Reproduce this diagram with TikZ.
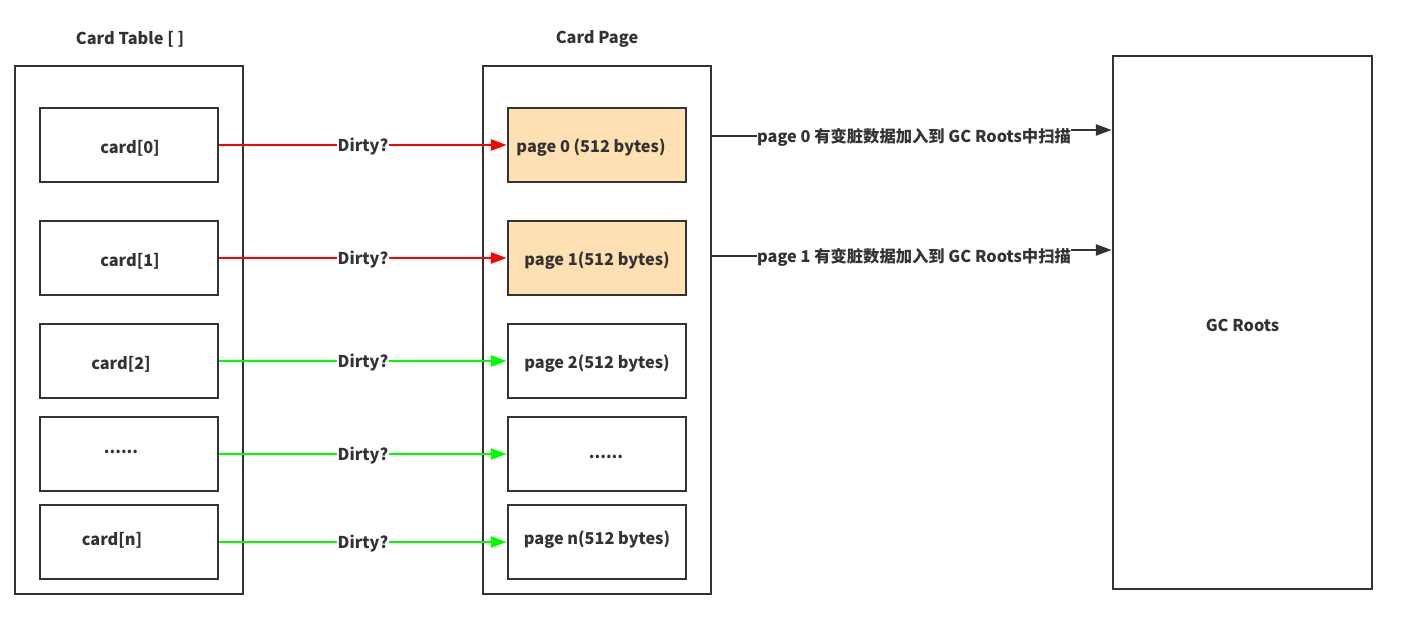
\documentclass[tikz,border=0pt]{standalone}
\usepackage{fontspec}
\setmainfont{Noto Sans CJK SC}
\usetikzlibrary{arrows.meta}
\definecolor{ln}{HTML}{333333}
\definecolor{pg}{HTML}{FFE0B2}
\definecolor{gr}{HTML}{00FF00}
\begin{document}
\begin{tikzpicture}[x=1pt,y=-1pt,
  font=\fontsize{16.3}{19}\selectfont\bfseries, text=ln,
  cont/.style={draw=ln, line width=2.5pt, fill=white, minimum width=228pt, minimum height=528pt, inner sep=0pt},
  box/.style={draw=ln, line width=2.5pt, fill=white, minimum width=178pt, minimum height=74pt, inner sep=0pt},
  hot/.style={box, fill=pg},
  redarr/.style={draw=red, line width=2.5pt, -{Triangle[length=16pt,width=11pt]}},
  grnarr/.style={draw=gr, line width=2.5pt, -{Triangle[length=16pt,width=11pt]}},
  darkarr/.style={draw=ln, line width=2.5pt, -{Triangle[length=16pt,width=11pt]}},
  lbl/.style={fill=white, inner sep=1pt}
]
\useasboundingbox (0,0) rectangle (1406,628);
\node (t1) at (130,39) {Card Table [ ]};
\node (t2) at (597,39) {Card Page};
\node[cont] (ct) at (129,330) {};
\node[cont] (pc) at (597,330) {};
\node[draw=ln, line width=2.5pt, minimum width=259pt, minimum height=533pt, inner sep=0pt] (gc) at (1242.5,322.5) {};
\node (gct) at (1242.5,325) {GC Roots};

\node[box] (c0) at (129,145) {};
\node at (130,148) {card[0]};
\node[box] (c1) at (129,258) {};
\node at (130,261) {card[1]};
\node[box] (c2) at (129,361) {};
\node at (121,364) {card[2]};
\node[box] (c3) at (129,454) {};
\node at (121,452) {......};
\node[box] (c4) at (129,542) {};
\node at (112,540) {card[n]};

\node[hot] (p0) at (597,145) {};
\node at (591,148) {page 0 (512 bytes)};
\node[hot] (p1) at (597,258) {};
\node at (597,261) {page 1(512 bytes)};
\node[box] (p2) at (597,361) {};
\node at (597,364) {page 2(512 bytes)};
\node[box] (p3) at (597,454) {};
\node at (606,457) {......};
\node[box] (p4) at (597,542) {};
\node at (597,540) {page n(512 bytes)};

\draw[redarr] (c0.east) -- node[lbl, yshift=-2pt] {Dirty?} (p0.west);
\draw[redarr] (c1.east) -- node[lbl, yshift=-2pt] {Dirty?} (p1.west);
\draw[grnarr] (c2.east) -- node[lbl, yshift=-2pt] {Dirty?} (p2.west);
\draw[grnarr] (c3.east) -- node[lbl, yshift=-2pt] {Dirty?} (p3.west);
\draw[grnarr] (c4.east) -- node[lbl, yshift=-2pt] {Dirty?} (p4.west);

\draw[darkarr] (pc.east |- 0,136) -- (914,136) -- (914,130) -- (gc.west |- 0,130);
\node[lbl, inner sep=0pt] (m0) at (914,137) {page 0 有变脏数据加入到 GC Roots中扫描};
\draw[darkarr] (pc.east |- 0,256) -- (914,256) -- (914,250) -- (gc.west |- 0,250);
\node[lbl, inner sep=0pt] (m1) at (914,257) {page 1 有变脏数据加入到 GC Roots中扫描};
\end{tikzpicture}
\end{document}
